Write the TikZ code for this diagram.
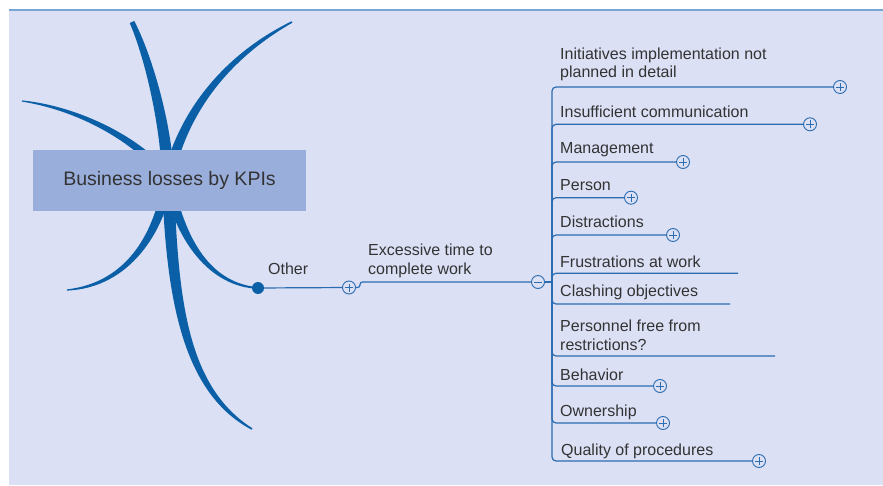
\documentclass[tikz,border=0pt]{standalone}
\usepackage{fontspec}
\setmainfont{Liberation Sans}
\usetikzlibrary{calc}
\definecolor{bgcol}{HTML}{DBE0F5}
\definecolor{topcol}{HTML}{77A5D6}
\definecolor{branchblue}{HTML}{0A5FA6}
\definecolor{conncol}{HTML}{2C6CB0}
\definecolor{boxcol}{HTML}{9AAEDC}
\definecolor{txtcol}{HTML}{333333}
\newcommand{\mmbranch}[7]{%
  \fill[branchblue] ($#1!#5!90:#2$) .. controls ($#2!#5!-90:#1$) and ($#3!#6!90:#4$) .. ($#4!#7!-90:#3$)
   -- ($#4!#7!90:#3$) .. controls ($#3!#6!-90:#4$) and ($#2!#5!90:#1$) .. ($#1!#5!-90:#2$) -- cycle;}
\tikzset{
  conn/.style={draw=conncol, line width=1.2pt},
  lbl/.style={text=txtcol, font=\fontsize{16}{18.5}\selectfont, inner sep=0pt, anchor=base west, align=left},
  togglebase/.style={circle, draw=conncol, fill=bgcol, line width=0.9pt, minimum size=13pt, inner sep=0pt},
  plusbtn/.style={togglebase, path picture={\draw[conncol, line width=0.9pt]
     ([xshift=-4pt]path picture bounding box.center) -- ([xshift=4pt]path picture bounding box.center)
     ([yshift=-4pt]path picture bounding box.center) -- ([yshift=4pt]path picture bounding box.center);}},
  minusbtn/.style={togglebase, path picture={\draw[conncol, line width=0.9pt]
     ([xshift=-4pt]path picture bounding box.center) -- ([xshift=4pt]path picture bounding box.center);}},
  rootbox/.style={fill=boxcol, minimum width=273pt, minimum height=61pt, inner sep=0pt, text=txtcol, font=\fontsize{19.5}{23}\selectfont},
  dotnode/.style={circle, fill=branchblue, minimum size=12pt, inner sep=0pt},
  branch/.style={conn, rounded corners=4pt}
}
\begin{document}
\begin{tikzpicture}[x=1pt,y=-1pt]
\useasboundingbox (0,0) rectangle (883,486);
\fill[bgcol] (9,10) rectangle (883,485);
\draw[topcol, line width=1.6pt] (9,10) -- (883,10);
% main branches
\mmbranch{(168,180)}{(167,130)}{(150,60)}{(132,22)}{6pt}{4pt}{2.5pt}
\mmbranch{(168,180)}{(172,300)}{(185,390)}{(252,429)}{6pt}{4pt}{0.8pt}
\mmbranch{(168,180)}{(180,120)}{(220,60)}{(292,22)}{5pt}{3.5pt}{0.8pt}
\mmbranch{(168,180)}{(160,230)}{(130,285)}{(67,290)}{5pt}{3pt}{0.6pt}
\mmbranch{(168,180)}{(150,150)}{(90,110)}{(22,101)}{4.5pt}{2.5pt}{0.6pt}
\mmbranch{(168,180)}{(180,240)}{(210,285)}{(258,288)}{5pt}{2pt}{0.8pt}
\node[rootbox] (root) at (169.5,180.5) {Business losses by KPIs};
% Other
\node[dotnode] (odot) at (258,288) {};
\node[lbl] (other) at (268,275) {Other};
\node[plusbtn] (p0) at (349,287.5) {};
\draw[conn] (odot) -- (p0);
\node[lbl] (exc) at (368,274.5) {Excessive time to\\complete work};
\node[minusbtn] (m0) at (538,282) {};
\draw[conn, rounded corners=2.5pt] (p0.east) -- (360,287.5) -- (360,282) -- (m0.west);
\coordinate (sp) at (552,282);
\draw[conn] (m0.east) -- (sp);
% items
\node[lbl] (t1) at (560,77.7) {Initiatives implementation not\\planned in detail};
\node[plusbtn] (b1) at (840,87) {};
\draw[branch] (sp) |- (b1.west);
\node[lbl] (t2) at (560,117.3) {Insufficient communication};
\node[plusbtn] (b2) at (810,124.3) {};
\draw[branch] (sp) |- (b2.west);
\node[lbl] (t3) at (560,153.3) {Management};
\node[plusbtn] (b3) at (683,162) {};
\draw[branch] (sp) |- (b3.west);
\node[lbl] (t4) at (560,190.7) {Person};
\node[plusbtn] (b4) at (631,197.7) {};
\draw[branch] (sp) |- (b4.west);
\node[lbl] (t5) at (560,227.7) {Distractions};
\node[plusbtn] (b5) at (673,235) {};
\draw[branch] (sp) |- (b5.west);
\node[lbl] (t6) at (560,267.7) {Frustrations at work};
\coordinate (e6) at (738,273.3);
\draw[branch] (sp) |- (e6);
\node[lbl] (t7) at (560,296) {Clashing objectives};
\coordinate (e7) at (730,304);
\draw[branch] (sp) |- (e7);
\node[lbl] (t8) at (560,350) {Personnel free from\\restrictions?};
\coordinate (e8) at (775,356);
\draw[branch] (sp) |- (e8);
\node[lbl] (t9) at (560,380) {Behavior};
\node[plusbtn] (b9) at (660,386) {};
\draw[branch] (sp) |- (b9.west);
\node[lbl] (t10) at (560,416.7) {Ownership};
\node[plusbtn] (b10) at (663,423) {};
\draw[branch] (sp) |- (b10.west);
\node[lbl] (t11) at (561,455) {Quality of procedures};
\node[plusbtn] (b11) at (759,461) {};
\draw[branch] (sp) |- (b11.west);
\end{tikzpicture}
\end{document}
